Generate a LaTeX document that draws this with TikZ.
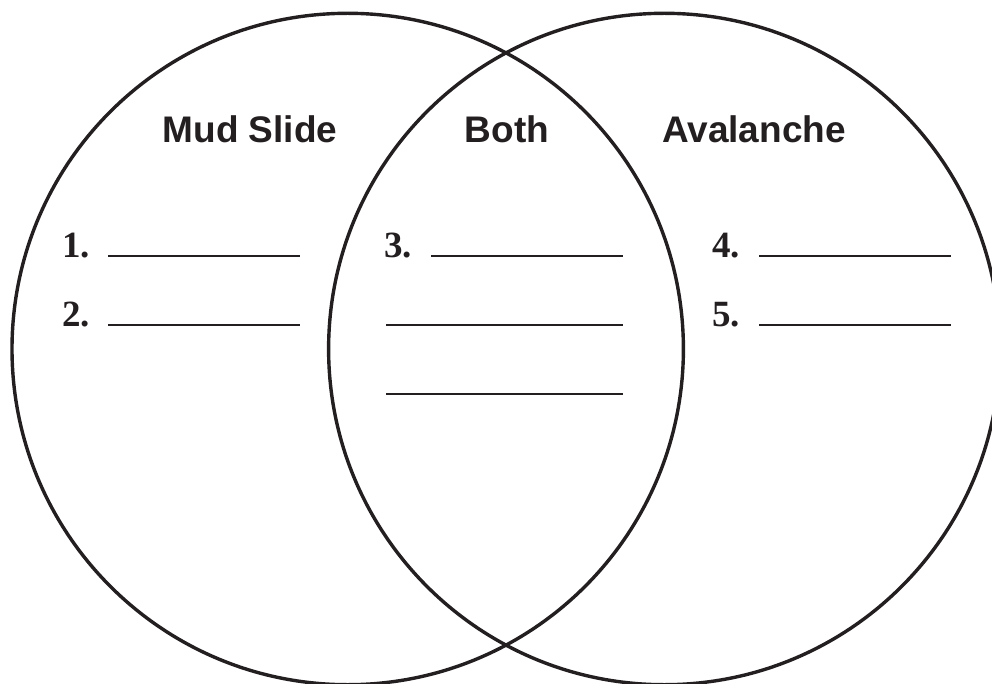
\documentclass[tikz,border=0pt]{standalone}
\usepackage{fontspec}
\setmainfont{Liberation Serif}
\newfontfamily\headfont{Liberation Sans}
\definecolor{ink}{HTML}{231F20}
\begin{document}
\begin{tikzpicture}[x=1pt,y=-1pt,
  ring/.style={draw=ink,line width=3.4pt},
  head/.style={anchor=base,inner sep=0pt,text=ink,font=\headfont\fontsize{37}{40}\selectfont\bfseries},
  num/.style={anchor=base west,inner sep=0pt,text=ink,font=\fontsize{37}{40}\selectfont\bfseries},
  blank/.style={draw=ink,line width=1.6pt}]
\useasboundingbox (0,0) rectangle (992,684);
\begin{scope}
\clip (0,0) rectangle (992,684);
\node[ring,circle,minimum size=671.4pt,inner sep=0pt] (left) at (347.7,349) {};
\node[ring,circle,minimum size=671.4pt,inner sep=0pt] (right) at (664.3,349) {};
\end{scope}
\node[head] (mud) at (250,143) {Mud Slide};
\node[head] (both) at (507,143) {Both};
\node[head] (aval) at (754,143) {Avalanche};
\node[num] (n1) at (62,258) {1.};
\node[num] (n2) at (62,326) {2.};
\node[num] (n3) at (384,258) {3.};
\node[num] (n4) at (712,258) {4.};
\node[num] (n5) at (712,326) {5.};
\draw[blank] (108,256) -- (300,256);
\draw[blank] (108,325) -- (300,325);
\draw[blank] (431,256) -- (623,256);
\draw[blank] (386,325) -- (623,325);
\draw[blank] (386,394) -- (623,394);
\draw[blank] (759,256) -- (951,256);
\draw[blank] (759,325) -- (951,325);
\end{tikzpicture}
\end{document}
